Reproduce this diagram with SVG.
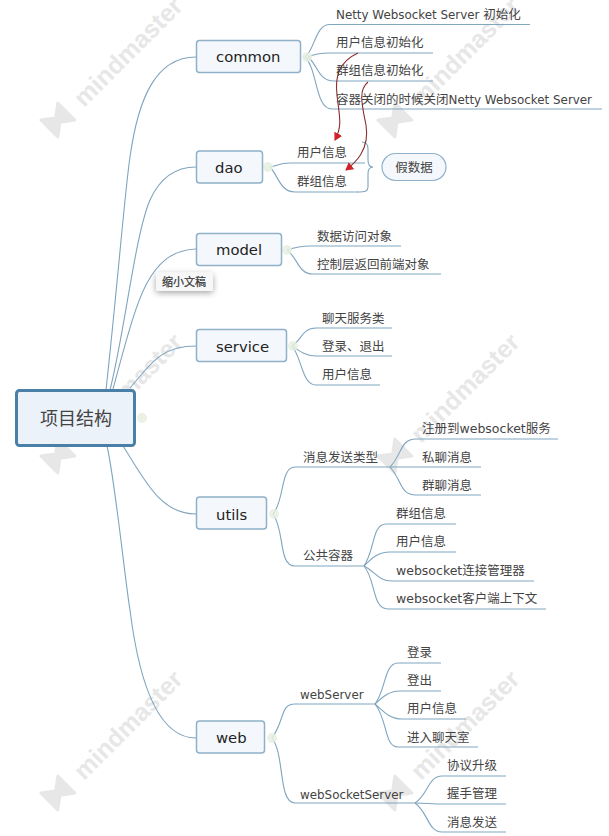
<svg xmlns="http://www.w3.org/2000/svg" width="609" height="836" viewBox="0 0 609 836">
<style>
text{font-family:"DejaVu Sans","Noto Sans CJK SC",sans-serif;fill:#444}
.l{font-size:12.5px}
.t{font-size:11.9px}
.n{font-size:14.800px;fill:#222}
.b{fill:#f4f8fc;stroke:#8eb0c8;stroke-width:1.5}
.c{fill:none;stroke:#7fa5bf;stroke-width:1.1}
.r{fill:none;stroke:#8c2f2f;stroke-width:1.1}
.d{fill:#e6eee0;opacity:.85}
.w{font-family:"Liberation Sans",sans-serif;font-size:25px;font-weight:bold;fill:#e7e7e7}
.m{fill:#e7e7e7;stroke:#e7e7e7;stroke-width:3;stroke-linejoin:round}
</style>
<defs>
<marker id="ah" markerUnits="userSpaceOnUse" markerWidth="10" markerHeight="10" refX="7" refY="4.500" orient="auto"><path d="M0 0L8 4.500L0 9z" fill="#d0202a"/></marker>
<filter id="sh" x="-20%" y="-30%" width="140%" height="170%"><feDropShadow dx="0" dy="2" stdDeviation="3" flood-color="#000" flood-opacity=".35"/></filter>
<g id="wm"><path class="m" d="M-39 -22L-27 -13L-15 -22V2L-27 -7L-39 2z"/><text class="w" x="0" y="0">mindmaster</text></g>
</defs>
<rect width="609" height="836" fill="#fff"/>
<g id="watermarks">
<use href="#wm" transform="translate(84 108) rotate(-45)"/>
<use href="#wm" transform="translate(421 108) rotate(-45)"/>
<use href="#wm" transform="translate(84 444) rotate(-45)"/>
<use href="#wm" transform="translate(421 444) rotate(-45)"/>
<use href="#wm" transform="translate(84 781) rotate(-45)"/>
<use href="#wm" transform="translate(421 781) rotate(-45)"/>
</g>
<g id="connectors">
<path class="c" d="M106 390C118 280 125 190 130 157C138 100 155 57 196 57"/>
<path class="c" d="M110 390C125 330 135 235 150 200C160 178 175 167 196 167"/>
<path class="c" d="M113 389C125 345 135 305 147 283C157 265 170 250 196 249"/>
<path class="c" d="M130 388C150 365 160 346 196 346"/>
<path class="c" d="M123 446C145 480 160 514 196 514"/>
<path class="c" d="M107 446C115 480 125 580 130 610C140 690 160 738 196 738"/>
<path class="c" d="M305 57C315 50 315 24.500 330 24.500H530"/>
<path class="c" d="M308 57C312 55 318 53 330 53H433"/>
<path class="c" d="M308 57C318 65 318 81 334 81H433"/>
<path class="c" d="M305 57C318 70 315 109 332 109H602"/>
<path class="c" d="M270 167C276 166 280 163 290 163H365"/>
<path class="c" d="M270 167C278 175 280 192 295 192H358"/>
<path class="c" d="M287 250C293 248 300 246 310 246H401"/>
<path class="c" d="M287 250C298 258 298 274 313 274H441"/>
<path class="c" d="M292 346C302 340 302 328 316 328H392"/>
<path class="c" d="M292 346C298 350 305 356 316 356H392"/>
<path class="c" d="M292 346C302 358 302 385 316 385H380"/>
<path class="c" d="M273 514C285 500 280 467 295 467H390"/>
<path class="c" d="M273 514C285 530 278 566 295 566H364"/>
<path class="c" d="M390 467C402 455 400 439 416 439H558"/>
<path class="c" d="M390 467H481"/>
<path class="c" d="M390 467C402 480 400 495 416 495H481"/>
<path class="c" d="M364 566C375 550 372 524 386 524H456"/>
<path class="c" d="M364 566C372 558 378 552 390 552H456"/>
<path class="c" d="M364 566C376 572 378 581 392 581H534"/>
<path class="c" d="M364 566C376 580 372 609 388 609H546"/>
<path class="c" d="M272 738C285 720 280 704 295 704H375"/>
<path class="c" d="M272 738C285 755 278 803 295 803H415"/>
<path class="c" d="M375 704C386 690 384 663 398 663H441"/>
<path class="c" d="M375 704C382 698 388 691 400 691H441"/>
<path class="c" d="M375 704C384 712 390 719 402 719H466"/>
<path class="c" d="M375 704C388 720 384 747 398 747H478"/>
<path class="c" d="M415 803C428 795 428 776 442 776H506"/>
<path class="c" d="M415 803C425 803 432 804 442 804H506"/>
<path class="c" d="M415 803C428 812 428 832 442 832H506"/>
<path class="c" d="M362 142C367 142 368 145 368 149V160C368 165 370 167 373 167C370 167 368 169 368 174V187C368 191 366 192 357 192"/>
<path class="r" marker-end="url(#ah)" d="M358 53C338 62 335 78 337 95C339 115 343 125 335 140"/>
<path class="r" marker-end="url(#ah)" d="M368 82C358 90 362 105 366 125C370 150 355 163 346 170"/>
</g>
<g id="n0"><circle class="d" cx="142" cy="418" r="5"/><rect x="16.500" y="390.500" width="118" height="55" rx="3" fill="#ebf2fa" stroke="#4a7fa8" stroke-width="3"/><text x="40" y="425" font-size="18px" fill="#222">项目结构</text></g>
<g id="common"><circle class="d" cx="307" cy="57" r="5"/><rect class="b" x="196.500" y="40.500" width="104" height="32" rx="3"/><text class="n" x="216" y="62">common</text></g>
<g id="dao"><circle class="d" cx="268" cy="167" r="5"/><rect class="b" x="196.500" y="151" width="66" height="32" rx="3"/><text class="n" x="215" y="173">dao</text></g>
<g id="model"><circle class="d" cx="287" cy="250" r="5"/><rect class="b" x="196.500" y="233.500" width="85" height="32" rx="3"/><text class="n" x="216" y="255">model</text></g>
<g id="service"><circle class="d" cx="293" cy="346" r="5"/><rect class="b" x="196.500" y="329.500" width="90" height="32" rx="3"/><text class="n" x="216" y="352">service</text></g>
<g id="utils"><circle class="d" cx="274" cy="514" r="5"/><rect class="b" x="196.500" y="497" width="70" height="32" rx="3"/><text class="n" x="216" y="520">utils</text></g>
<g id="web"><circle class="d" cx="272" cy="738" r="5"/><rect class="b" x="196.500" y="721" width="68" height="32" rx="3"/><text class="n" x="216" y="743">web</text></g>
<g id="common-kids"><text class="l" x="336" y="19"><tspan class="t">Netty Websocket Server </tspan>初始化</text><text class="l" x="336" y="47">用户信息初始化</text><text class="l" x="336" y="75">群组信息初始化</text><text class="l" x="336" y="104">容器关闭的时候关闭<tspan class="t">Netty Websocket Server</tspan></text></g>
<g id="dao-kids"><text class="l" x="297" y="157">用户信息</text><text class="l" x="297" y="186">群组信息</text></g>
<g id="fake"><rect x="382" y="153.500" width="64" height="27" rx="13.500" fill="#f4f8fc" stroke="#8eb0c8" stroke-width="1.200"/><text class="l" x="414" y="172" text-anchor="middle">假数据</text></g>
<g id="model-kids"><text class="l" x="317" y="241">数据访问对象</text><text class="l" x="317" y="269">控制层返回前端对象</text></g>
<g id="service-kids"><text class="l" x="322" y="323">聊天服务类</text><text class="l" x="322" y="351">登录、退出</text><text class="l" x="322" y="379">用户信息</text></g>
<g id="utils-kids"><text class="l" x="303" y="462">消息发送类型</text><text class="l" x="303" y="560">公共容器</text><text class="l" x="422" y="433">注册到websocket服务</text><text class="l" x="422" y="462">私聊消息</text><text class="l" x="422" y="490">群聊消息</text><text class="l" x="396" y="518">群组信息</text><text class="l" x="396" y="546">用户信息</text><text class="l" x="396" y="575">websocket连接管理器</text><text class="l" x="396" y="603">websocket客户端上下文</text></g>
<g id="web-kids"><text class="t" x="300" y="699">webServer</text><text class="t" x="300" y="799">webSocketServer</text><text class="l" x="407" y="657">登录</text><text class="l" x="407" y="685">登出</text><text class="l" x="407" y="713">用户信息</text><text class="l" x="407" y="742">进入聊天室</text><text class="l" x="447" y="770">协议升级</text><text class="l" x="447" y="798">握手管理</text><text class="l" x="447" y="827">消息发送</text></g>
<g id="tip"><rect x="156" y="272.500" width="57" height="18.500" rx="2" fill="#f7f7f7" filter="url(#sh)"/><text x="162" y="286" font-size="11px" fill="#111" stroke="#111" stroke-width=".2">缩小文稿</text></g>
</svg>
